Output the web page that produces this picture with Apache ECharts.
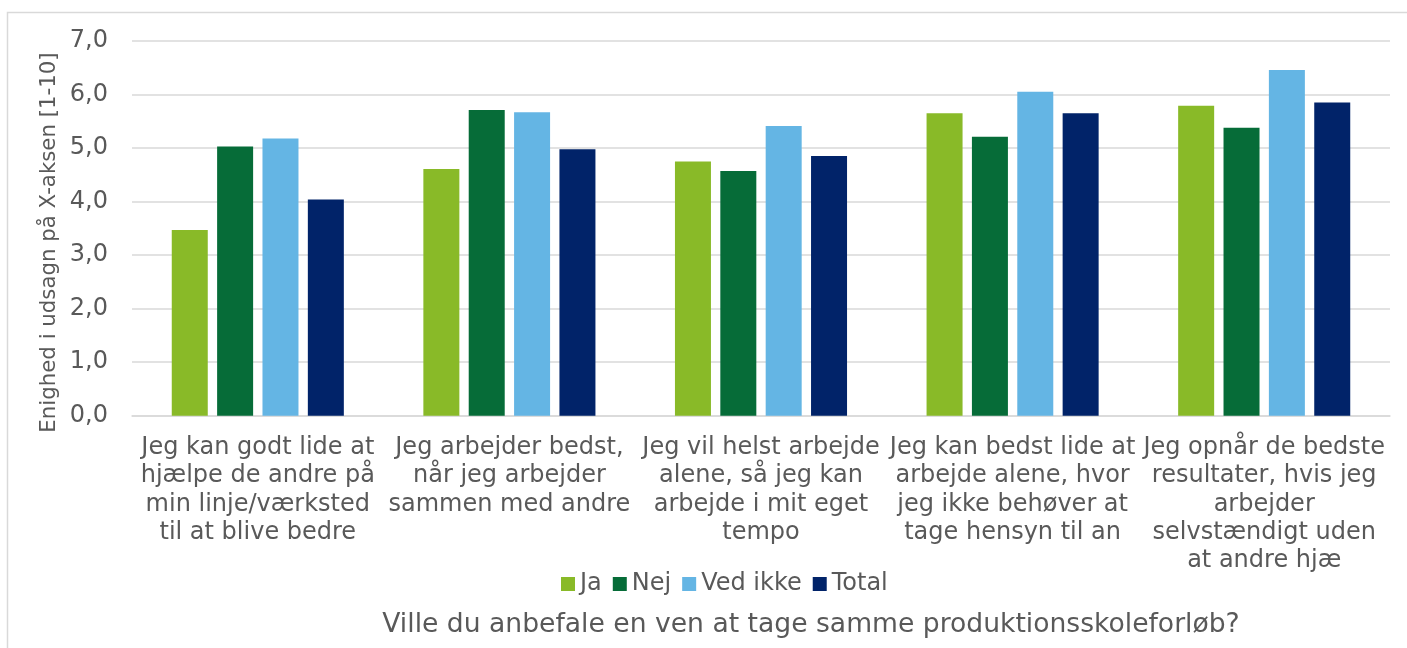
<!DOCTYPE html>
<html>
<head>
<meta charset="utf-8">
<script src="https://cdn.jsdelivr.net/npm/echarts@6/dist/echarts.min.js"></script>
<style>
  html, body { margin: 0; padding: 0; background: #ffffff; }
  #chart { width: 1407px; height: 648px; }
</style>
</head>
<body>
<div id="chart"></div>
<script>
// Statements shown on the category axis (line breaks as they wrap under each group)
const categories = [
  "Jeg kan godt lide at\nhjælpe de andre på\nmin linje/værksted\ntil at blive bedre",
  "Jeg arbejder bedst,\nnår jeg arbejder\nsammen med andre",
  "Jeg vil helst arbejde\nalene, så jeg kan\narbejde i mit eget\ntempo",
  "Jeg kan bedst lide at\narbejde alene, hvor\njeg ikke behøver at\ntage hensyn til an",
  "Jeg opnår de bedste\nresultater, hvis jeg\narbejder\nselvstændigt uden\nat andre hjæ"
];

// Average agreement per answer group
const seriesNames = ["Ja", "Nej", "Ved ikke", "Total"];
const jaValues = [3.47, 4.61, 4.75, 5.65, 5.79];
const nejValues = [5.03, 5.71, 4.57, 5.21, 5.38];
const vedIkkeValues = [5.18, 5.67, 5.41, 6.05, 6.46];
const totalValues = [4.04, 4.98, 4.85, 5.65, 5.85];

const yTitle = "Enighed i udsagn på X-aksen [1-10]";
const xTitle = "Ville du anbefale en ven at tage samme produktionsskoleforløb?";

const colors = ["#89BA28", "#066C38", "#64B5E4", "#012369"];
const textColor = "#595959";
const gridColor = "#D9D9D9";
const font = "'DejaVu Sans', Verdana, sans-serif";

const valueSets = [jaValues, nejValues, vedIkkeValues, totalValues];

const chart = echarts.init(document.getElementById("chart"), null, { renderer: "canvas" });

chart.setOption({
  animation: false,
  backgroundColor: "#ffffff",
  textStyle: { fontFamily: font },
  grid: { left: 132, right: 17, top: 41, bottom: 232.3, containLabel: false },
  legend: {
    data: seriesNames,
    left: 561,
    top: 572,
    padding: 0,
    icon: "rect",
    itemWidth: 14,
    itemHeight: 14,
    itemGap: 11,
    textStyle: { color: textColor, fontSize: 24, fontFamily: font }
  },
  xAxis: {
    type: "category",
    data: categories,
    axisLine: { show: true, lineStyle: { color: gridColor, width: 1.5 } },
    axisTick: { show: false },
    axisLabel: {
      interval: 0,
      margin: 18,
      color: textColor,
      fontSize: 24,
      lineHeight: 28.3,
      fontFamily: font,
      align: "center"
    }
  },
  yAxis: {
    type: "value",
    min: 0,
    max: 7,
    interval: 1,
    axisLine: { show: false },
    axisTick: { show: false },
    splitLine: { show: true, lineStyle: { color: gridColor, width: 1.5 } },
    axisLabel: {
      margin: 24,
      color: textColor,
      fontSize: 24,
      fontFamily: font,
      formatter: v => v.toFixed(1).replace(".", ",")
    }
  },
  series: seriesNames.map((name, i) => ({
    name: name,
    type: "bar",
    data: valueSets[i],
    barWidth: 36,
    barGap: "26%",
    itemStyle: { color: colors[i] }
  })),
  graphic: [
    {
      type: "rect",
      silent: true,
      shape: { x: 7.5, y: 12.5, width: 1440, height: 700 },
      style: { fill: null, stroke: gridColor, lineWidth: 1.5 }
    },
    {
      type: "text",
      silent: true,
      x: 49,
      y: 242.5,
      rotation: Math.PI / 2,
      style: {
        text: yTitle,
        fill: textColor,
        font: "21.3px " + font,
        align: "center",
        verticalAlign: "middle"
      }
    },
    {
      type: "text",
      silent: true,
      x: 811,
      y: 625,
      style: {
        text: xTitle,
        fill: textColor,
        font: "26.6px " + font,
        align: "center",
        verticalAlign: "middle"
      }
    }
  ]
});
</script>
</body>
</html>
